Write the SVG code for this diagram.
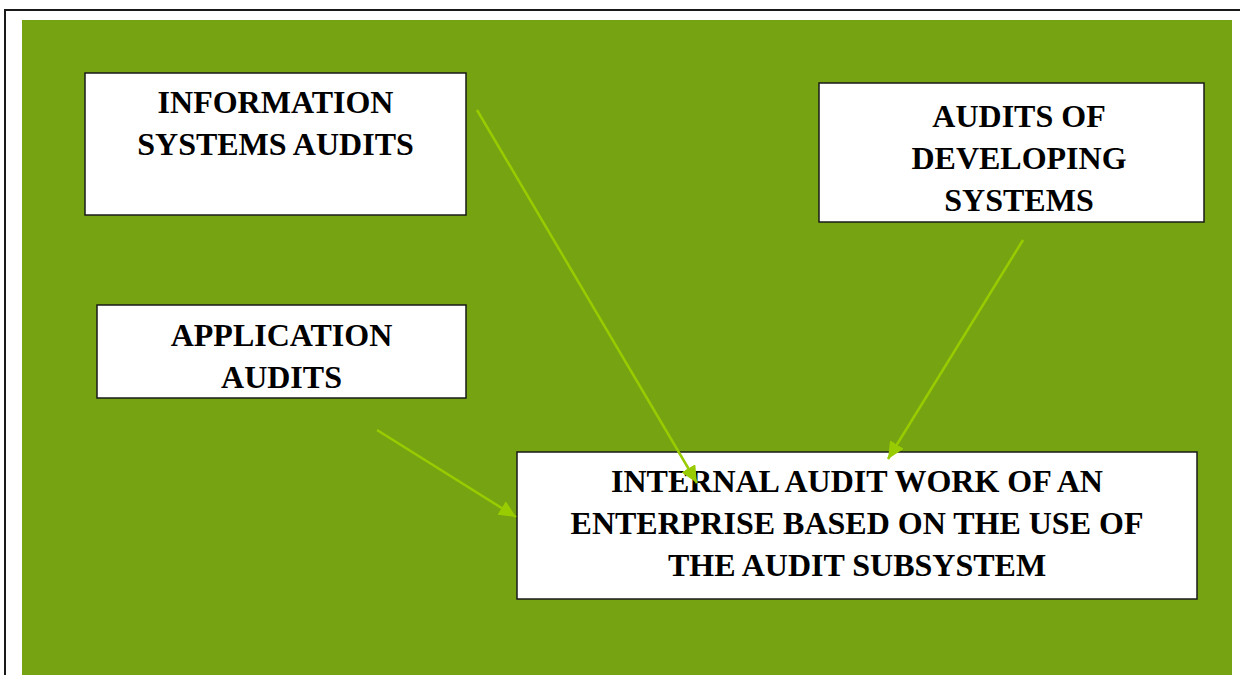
<svg xmlns="http://www.w3.org/2000/svg" width="1240" height="675" viewBox="0 0 1240 675">
  <style>
    .box { fill: #ffffff; stroke: #1a1a1a; stroke-width: 1.5; }
    .lbl { font-family: "Liberation Serif", "Times New Roman", serif; font-weight: bold; font-size: 32px; fill: #000000; text-anchor: middle; }
    .conn { stroke: #99cc00; stroke-width: 2.5; fill: none; marker-end: url(#arrow); }
  </style>
  <defs>
    <marker id="arrow" markerUnits="userSpaceOnUse" markerWidth="18" markerHeight="16" refX="17" refY="8" orient="auto">
      <path d="M0,0 L17,8 L0,16 z" fill="#99cc00"/>
    </marker>
  </defs>
  <rect x="0" y="0" width="1240" height="675" fill="#ffffff"/>
  <path d="M5,676 L5,10 L1241,10" fill="none" stroke="#1a1a1a" stroke-width="2"/>
  <rect x="22" y="20" width="1210" height="660" fill="#76a312"/>

  <g id="node-info-systems">
    <rect class="box" x="85" y="73" width="381" height="142"/>
    <text class="lbl" x="275.5" y="113">INFORMATION</text>
    <text class="lbl" x="275.5" y="155">SYSTEMS AUDITS</text>
  </g>
  <g id="node-developing">
    <rect class="box" x="819" y="83" width="385" height="139"/>
    <text class="lbl" x="1019" y="127">AUDITS OF</text>
    <text class="lbl" x="1019" y="169">DEVELOPING</text>
    <text class="lbl" x="1019" y="211">SYSTEMS</text>
  </g>
  <g id="node-application">
    <rect class="box" x="97" y="305" width="369" height="93"/>
    <text class="lbl" x="281.5" y="346">APPLICATION</text>
    <text class="lbl" x="281.5" y="388">AUDITS</text>
  </g>
  <g id="node-internal">
    <rect class="box" x="517" y="452" width="680" height="147"/>
    <text class="lbl" x="857" y="492">INTERNAL AUDIT WORK OF AN</text>
    <text class="lbl" x="857" y="534">ENTERPRISE BASED ON THE USE OF</text>
    <text class="lbl" x="857" y="576">THE AUDIT SUBSYSTEM</text>
  </g>

  <g id="connectors">
    <line class="conn" x1="477" y1="110" x2="697" y2="483"/>
    <line class="conn" x1="1023" y1="240" x2="888" y2="459"/>
    <line class="conn" x1="377" y1="430" x2="516" y2="517"/>
  </g>
</svg>
